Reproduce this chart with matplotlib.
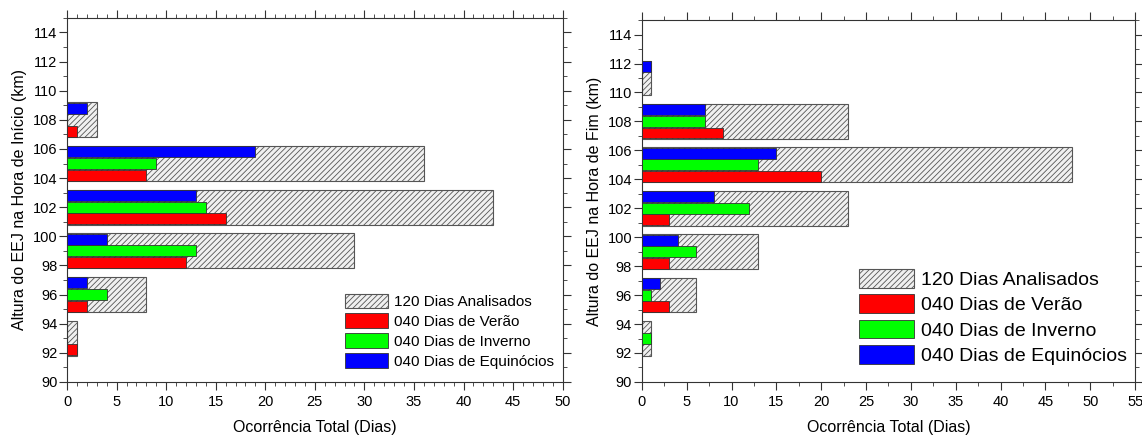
import numpy as np
import matplotlib.pyplot as plt
from matplotlib.ticker import MultipleLocator

plt.rcParams['font.family'] = ['Liberation Sans', 'DejaVu Sans']
plt.rcParams['hatch.linewidth'] = 0.6
plt.rcParams['hatch.color'] = '#666666'

# altura central de cada classe (km)
alt_ini = [93, 96, 99, 102, 105, 108]
total_ini = [1, 8, 29, 43, 36, 3]
verao_ini = [1, 2, 12, 16, 8, 1]
inverno_ini = [0, 4, 13, 14, 9, 0]
equin_ini = [0, 2, 4, 13, 19, 2]

alt_fim = [93, 96, 99, 102, 105, 108, 111]
total_fim = [1, 6, 13, 23, 48, 23, 1]
verao_fim = [0, 3, 3, 3, 20, 9, 0]
inverno_fim = [1, 1, 6, 12, 13, 7, 0]
equin_fim = [0, 2, 4, 8, 15, 7, 1]

labels = ['120 Dias Analisados', '040 Dias de Verão',
          '040 Dias de Inverno', '040 Dias de Equinócios']


def painel(ax, alt, total, ver, inv, equ, xmax, xminor, ylabel, legsize, legpos):
    alt = np.array(alt)
    ax.barh(alt, total, height=2.4, color='#f0f0f0', edgecolor='#555555',
            hatch='//////', linewidth=0.8, label=labels[0], zorder=2)
    ax.barh(alt - 0.8, ver, height=0.75, color='#ff0000', edgecolor='#333333',
            linewidth=0.6, label=labels[1], zorder=3)
    ax.barh(alt, inv, height=0.75, color='#00ff00', edgecolor='#333333',
            linewidth=0.6, label=labels[2], zorder=3)
    ax.barh(alt + 0.8, equ, height=0.75, color='#0000ff', edgecolor='#333333',
            linewidth=0.6, label=labels[3], zorder=3)
    ax.set_xlim(0, xmax)
    ax.set_ylim(90, 115)
    ax.xaxis.set_major_locator(MultipleLocator(5))
    ax.xaxis.set_minor_locator(MultipleLocator(xminor))
    ax.yaxis.set_minor_locator(MultipleLocator(1))
    ax.set_yticks(np.arange(90, 115, 2))
    ax.tick_params(which='both', direction='out', top=True, right=True,
                   labelsize=10.5, color='#333333')
    ax.tick_params(which='major', length=6)
    ax.tick_params(which='minor', length=3)
    ax.tick_params(axis='y', pad=1)
    for s in ax.spines.values():
        s.set_color('#333333')
    ax.set_xlabel('Ocorrência Total (Dias)', fontsize=11.5, labelpad=8)
    ax.set_ylabel(ylabel, fontsize=11.5)
    ax.legend(loc='lower right', bbox_to_anchor=legpos, frameon=False,
              fontsize=legsize, handlelength=2.8, handleheight=1.1,
              labelspacing=0.28, borderaxespad=0.0, handletextpad=0.4)


fig = plt.figure(figsize=(11.42, 4.37), dpi=100)
ax1 = fig.add_axes([0.0587, 0.126, 0.434, 0.833])
ax2 = fig.add_axes([0.562, 0.126, 0.432, 0.828])

painel(ax1, alt_ini, total_ini, verao_ini, inverno_ini, equin_ini, 50, 1,
       'Altura do EEJ na Hora de Início (km)', 11, (0.995, 0.02))
painel(ax2, alt_fim, total_fim, verao_fim, inverno_fim, equin_fim, 55, 2.5,
       'Altura do EEJ na Hora de Fim (km)', 14, (1.0, 0.025))

fig.savefig('out.png', dpi=100)
